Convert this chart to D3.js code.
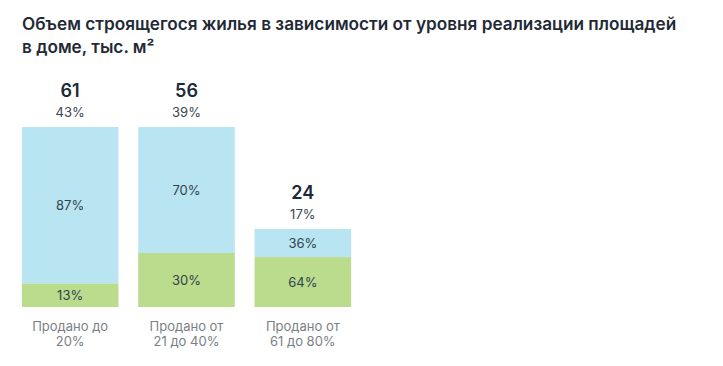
<!DOCTYPE html>
<html><head><meta charset="utf-8">
<script src="https://cdn.jsdelivr.net/npm/d3@7"></script>
<style>
html,body{margin:0;padding:0;background:#fff;}
svg{display:block;font-family:Inter,Roboto,"Noto Sans",sans-serif;}
</style></head>
<body><svg id="c" width="723" height="366"></svg>
<script>
const titleLines = ["Объем строящегося жилья в зависимости от уровня реализации площадей", "в доме, тыс. м²"];
const categories = [["Продано до", "20%"], ["Продано от", "21 до 40%"], ["Продано от", "61 до 80%"]];
const totals = [61, 56, 24];
const shareOfTotal = ["43%", "39%", "17%"];
const unsoldPct = [87, 70, 36];
const soldPct = [13, 30, 64];

const svg = d3.select("#c");
const colors = {unsold: "#b8e5f1", sold: "#badc8c"};

svg.append("g").selectAll("text").data(titleLines).join("text")
  .attr("x", 22).attr("y", (d, i) => 29.5 + i * 23.5)
  .attr("font-size", 17.2).attr("font-weight", 600).attr("fill", "#1f2a36")
  .text(d => d);

const x = d3.scaleBand().domain(d3.range(totals.length)).range([12, 361]).paddingInner(0.17).paddingOuter(0.085);
const y = d3.scaleLinear().domain([0, 55.4]).range([307, 127]).clamp(true);

const g = svg.append("g");
totals.forEach((t, i) => {
  const x0 = x(i), bw = x.bandwidth(), cx = x0 + bw / 2;
  const top = y(t), bottom = y(0), h = bottom - top;
  const segSold = h * soldPct[i] / 100;
  const splitY = bottom - segSold;
  g.append("rect").attr("x", x0).attr("y", top).attr("width", bw).attr("height", splitY - top).attr("fill", colors.unsold);
  g.append("rect").attr("x", x0).attr("y", splitY).attr("width", bw).attr("height", segSold).attr("fill", colors.sold);
  g.append("text").attr("x", cx).attr("y", (top + splitY) / 2 + 5).attr("text-anchor", "middle")
    .attr("font-size", 13).attr("fill", "#34424f").text(unsoldPct[i] + "%");
  g.append("text").attr("x", cx).attr("y", (splitY + bottom) / 2 + 5).attr("text-anchor", "middle")
    .attr("font-size", 13).attr("fill", "#34424f").text(soldPct[i] + "%");
  g.append("text").attr("x", cx).attr("y", top - 30).attr("text-anchor", "middle")
    .attr("font-size", 18).attr("font-weight", 600).attr("fill", "#1c2a38").text(t);
  g.append("text").attr("x", cx).attr("y", top - 10).attr("text-anchor", "middle")
    .attr("font-size", 13).attr("fill", "#3a4653").text(shareOfTotal[i]);
  categories[i].forEach((line, j) => {
    g.append("text").attr("x", cx).attr("y", 331 + j * 15).attr("text-anchor", "middle")
      .attr("font-size", 13).attr("fill", "#7a7f85").text(line);
  });
});
</script></body></html>
